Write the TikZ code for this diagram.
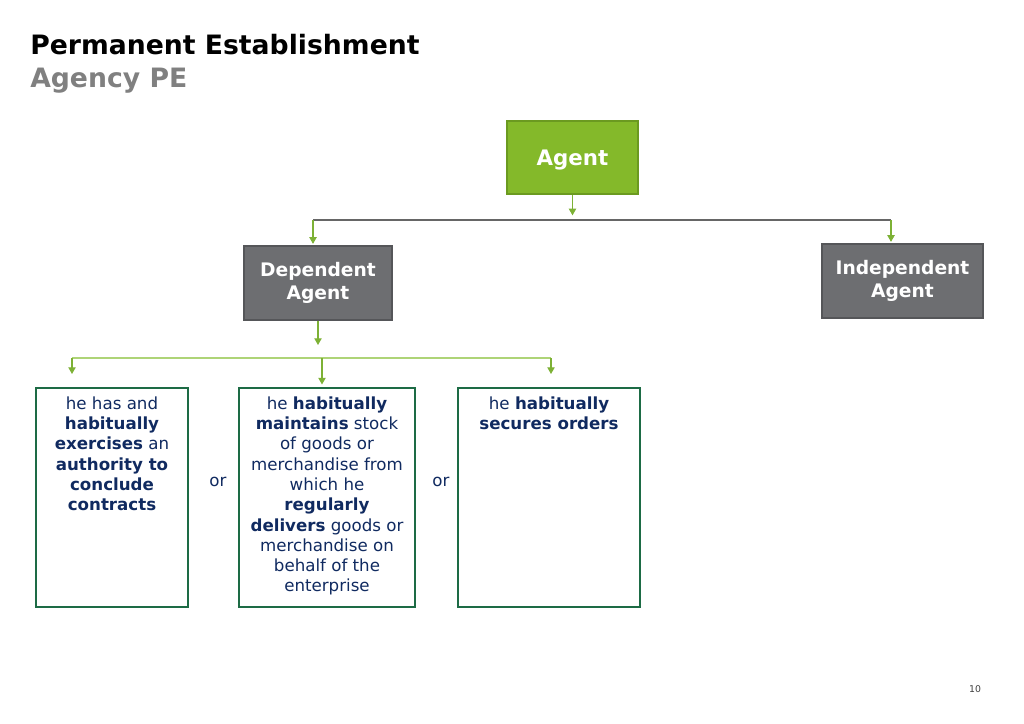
\documentclass[tikz,border=0pt]{standalone}
\usepackage{fontspec}
\setmainfont{DejaVu Sans}
\usepackage{xcolor}
\usepackage{tikz}
\usetikzlibrary{arrows.meta}

\definecolor{agentgreen}{HTML}{84B92A}
\definecolor{agentedge}{HTML}{6B9A20}
\definecolor{boxgray}{HTML}{6D6E71}
\definecolor{boxedge}{HTML}{555659}
\definecolor{arrowgreen}{HTML}{7DB135}
\definecolor{lightline}{HTML}{AED477}
\definecolor{linegray}{HTML}{666666}
\definecolor{condedge}{HTML}{1D6B45}
\definecolor{navytext}{HTML}{102A60}
\definecolor{subgray}{HTML}{808080}

\tikzset{
  agentbox/.style={draw=agentedge, fill=agentgreen, line width=1.5pt, text=white,
    font=\bfseries\fontsize{16}{19}\selectfont, minimum width=98pt, minimum height=55pt},
  kindbox/.style={draw=boxedge, fill=boxgray, line width=1.2pt, text=white, align=center,
    font=\bfseries\fontsize{14}{17}\selectfont, minimum height=55.5pt},
  condbox/.style={draw=condedge, line width=1.5pt, minimum height=164pt},
  condtext/.style={anchor=north, text=navytext, align=center, inner sep=0pt,
    font=\fontsize{12.5}{15.2}\selectfont},
  greenarrow/.style={draw=arrowgreen, line width=0.8pt, -{Triangle[length=5pt,width=5.5pt]}},
}

\begin{document}
\begin{tikzpicture}[x=0.75pt,y=0.75pt,yscale=-1,xscale=1]
\useasboundingbox (0,0) rectangle (1024,724);
%Title
\node (title) [anchor=base west, inner sep=0pt, font=\bfseries\fontsize{20}{24}\selectfont] at (30,55) {Permanent Establishment};
\node (subtitle) [anchor=base west, inner sep=0pt, text=subgray, font=\bfseries\fontsize{20}{24}\selectfont] at (30,88) {Agency PE};
%Boxes
\node (agent) [agentbox, text depth=0pt] at (572.5,157.5) {Agent};
\node (dep) [kindbox, minimum width=111pt] at (318,283) {Dependent\\Agent};
\node (indep) [kindbox, minimum width=120.75pt] at (902.5,281) {Independent\\Agent};
\node (cond1) [condbox, minimum width=114pt] at (112,497.5) {};
\node (cond2) [condbox, minimum width=132pt] at (327,497.5) {};
\node (cond3) [condbox, minimum width=136.5pt] at (549,497.5) {};
%Text
\node (cond1txt) [condtext] at ([yshift=7pt]cond1.north) {he has and\\\textbf{habitually}\\\textbf{exercises} an\\\textbf{authority to}\\\textbf{conclude}\\\textbf{contracts}};
\node (cond2txt) [condtext] at ([yshift=7pt]cond2.north) {he \textbf{habitually}\\\textbf{maintains} stock\\of goods or\\merchandise from\\which he\\\textbf{regularly}\\\textbf{delivers} goods or\\merchandise on\\behalf of the\\enterprise};
\node (cond3txt) [condtext] at ([yshift=7pt]cond3.north) {he \textbf{habitually}\\\textbf{secures orders}};
\node (or1) [text=navytext, font=\fontsize{12.5}{15}\selectfont] at (218,482) {or};
\node (or2) [text=navytext, font=\fontsize{12.5}{15}\selectfont] at (441,482) {or};
\node (pagenum) [text=darkgray, font=\fontsize{7}{8}\selectfont] at (975,689) {10};
%Connectors
\coordinate (splitL) at (313,220);
\coordinate (splitR) at (891,220);
\coordinate (depEnd) at (318,345);
\coordinate (branchL) at (72,358);
\coordinate (branchM) at (322,358);
\coordinate (branchR) at (551,358);
\coordinate (tipL) at (72,374);
\coordinate (tipR) at (551,374);
\draw [greenarrow, shorten >=3.5pt] (agent.south) -- (agent.south |- splitL);
\draw [linegray, line width=0.8pt] (splitL) -- (splitR);
\draw [greenarrow, shorten >=1pt] (splitL) -- (splitL |- dep.north);
\draw [greenarrow, shorten >=1pt] (splitR) -- (splitR |- indep.north);
\draw [greenarrow] (dep.south) -- (depEnd);
\draw [lightline, line width=1.2pt] (branchL) -- (branchR);
\draw [greenarrow] (branchL) -- (tipL);
\draw [greenarrow] (branchR) -- (tipR);
\draw [greenarrow, shorten >=2pt] (branchM) -- (branchM |- cond2.north);
\end{tikzpicture}
\end{document}
